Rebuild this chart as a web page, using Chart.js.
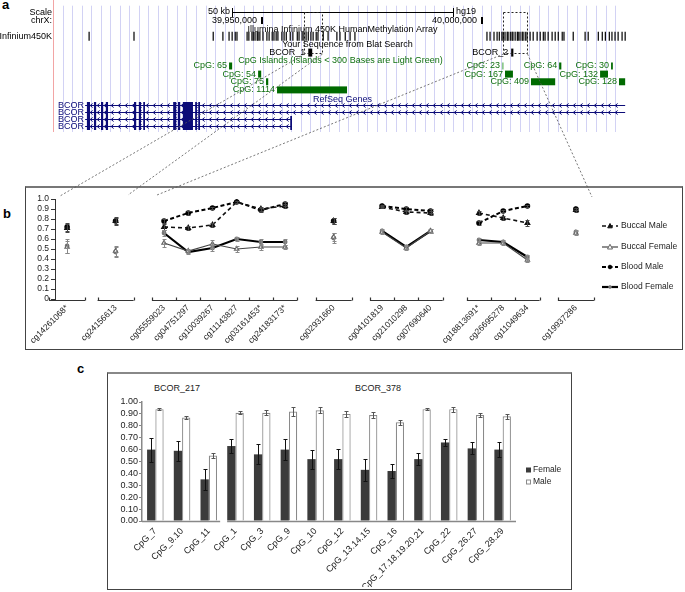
<!DOCTYPE html>
<html>
<head>
<meta charset="utf-8">
<script src="https://cdn.jsdelivr.net/npm/chart.js@4.4.1/dist/chart.umd.min.js"></script>
<style>
html, body { margin: 0; padding: 0; background: #fff; width: 685px; height: 592px; overflow: hidden; }
body { position: relative; font-family: "Liberation Sans", Arial, sans-serif; }
.abs { position: absolute; }
.panel { font-weight: bold; font-size: 13px; }
.box { box-sizing: border-box; border: 1px solid #444; }
.amp { font-size: 9px; color: #222; }
canvas { display: block; }
</style>
</head>
<body>
<div class="abs panel" style="left:2px;top:-3px">a</div>
<div class="abs panel" style="left:3px;top:206px">b</div>
<div class="abs panel" style="left:77px;top:361px">c</div>

<div class="abs box" style="left:25px;top:186px;width:658px;height:164px;border-top:2px solid #777"></div>
<div class="abs box" style="left:107px;top:372px;width:465px;height:218px;border-top:2px solid #888"></div>
<div class="abs amp" style="left:154px;top:383px">BCOR_217</div>
<div class="abs amp" style="left:355px;top:383px">BCOR_378</div>

<canvas id="chartB" class="abs" width="685" height="175" style="left:0;top:180px;z-index:2"></canvas>
<canvas id="chartC" class="abs" width="685" height="232" style="left:0;top:360px;z-index:2"></canvas>
<canvas id="chartA" class="abs" width="685" height="200" style="left:0;top:0;z-index:3"></canvas>

<script>
const FONT = '"Liberation Sans", Arial, sans-serif';

// ---------- a: genome browser view, chrX positions in kb ----------
const viewKb = [39902.95, 40033.6];
const scaleBarKb = 50;
const coordTicks = [39950, 40000];
const gridStartKb = 39904.8, gridStepKb = 2.164, gridEndKb = 40031.5;
const infiniumProbes = [39910.7, 39920.9, 39938.9, 39941.1, 39942.5, 39943.2, 39943.9, 39944.3, 39946.6, 39947.0,
  39947.7, 39948.0, 39948.4, 39948.9, 39949.1, 39949.5, 39950.2, 39951.1, 39951.6, 39952.3, 39952.7, 39953.2,
  39953.6, 39954.5, 39955.0, 39955.5, 39956.4, 39957.0, 39958.0, 39958.4, 39959.1, 39959.5, 39960.0, 39960.5,
  39961.1, 39961.6, 39962.3, 39962.7, 39963.9, 39965.0, 39967.0, 39967.7, 39968.9, 39970.0, 39971.1,
  40001.1, 40001.8, 40002.7, 40003.4, 40003.9, 40004.5, 40004.8, 40005.2, 40005.7, 40005.9, 40006.4, 40006.8,
  40007.0, 40007.5, 40008.0, 40008.2, 40008.6, 40009.1, 40009.3, 40009.8, 40010.2, 40010.9, 40011.6, 40012.5,
  40013.2, 40013.9, 40014.3, 40015.0, 40015.9, 40016.6, 40017.3, 40018.2, 40018.6, 40020.7, 40023.4, 40024.1,
  40026.4, 40027.3, 40028.0, 40028.9, 40029.5, 40030.2, 40030.9, 40031.8, 40032.5];
const blatNames = ['BCOR_1', 'BCOR_2'];
const blatStart = [39960.5, 40006.6];
const blatEnd = [39961.4, 40007.1];
const zoomStart = [39959.5, 40004.8];
const zoomEnd = [39963.6, 40010.2];
const cpgLabels = ['CpG: 65', 'CpG: 54', 'CpG: 75', 'CpG: 1114', 'CpG: 23', 'CpG: 167', 'CpG: 409', 'CpG: 64', 'CpG: 30', 'CpG: 132', 'CpG: 128'];
const cpgStart = [39942.5, 39949.1, 39950.9, 39953.4, 40004.5, 40005.2, 40011.1, 40017.5, 40029.3, 40026.8, 40031.1];
const cpgEnd   = [39943.2, 39949.8, 39951.4, 39969.3, 40004.9, 40007.0, 40016.6, 40018.0, 40029.7, 40028.6, 40032.5];
const cpgRow   = [0, 1, 2, 3, 0, 1, 2, 0, 0, 1, 2];
const cpgShort = [false, false, false, false, true, false, false, false, false, false, false];
const txStart = [39909.8, 39909.8, 39909.8, 39909.8];
const txEnd = [40032.5, 40032.5, 39956.8, 39956.8];
const exonStart = [39910.2, 39911.8, 39913.4, 39914.5, 39920.9, 39922.0, 39923.0, 39929.8, 39930.9, 39932.0, 39934.8, 39935.5];
const exonEnd   = [39910.9, 39912.3, 39913.9, 39915.0, 39921.4, 39922.5, 39923.4, 39930.5, 39931.4, 39934.3, 39935.2, 39935.9];
const lastExonStart = [null, null, 39956.4, 39956.4];
const lastExonEnd = [null, null, 39956.8, 39956.8];

// row layout of the browser image (y in px)
const rowY = { scale: 7, coord: 16, array: 25, probe: 32, blatTitle: 41, blat: 49, cpgTitle: 57, refseq: 98 };
const cpgRowY = [63, 71.5, 79.5, 88];
const txRowY = [104, 111.3, 118.6, 126];
const connectorEnds = [[60, 196], [128, 195], [157, 195], [592, 197]];

// ---------- b: 450K probes ----------
const probes = ['cg14261068*', 'cg24156613', 'cg05559023', 'cg04751297', 'cg10039267', 'cg11143827', 'cg03161453*',
  'cg24183173*', 'cg02931660', 'cg04101819', 'cg21010298', 'cg07690640', 'cg18813691*', 'cg26695278', 'cg11049634', 'cg19937286'];
const probeGroups = [1, 1, 6, 1, 3, 3, 1];
const buccalMale   = [0.71, 0.78, 0.72, 0.71, 0.74, 0.97, 0.90, 0.93, 0.78, 0.92, 0.87, 0.86, 0.86, 0.81, 0.76, 0.89];
const buccalFemale = [0.52, 0.48, 0.56, 0.48, 0.55, 0.50, 0.52, 0.52, 0.62, 0.67, 0.51, 0.68, 0.56, 0.56, 0.39, 0.66];
const bloodMale    = [0.72, 0.78, 0.78, 0.86, 0.91, 0.97, 0.89, 0.95, 0.78, 0.93, 0.90, 0.88, 0.76, 0.88, 0.93, 0.90];
const bloodFemale  = [0.53, 0.47, 0.66, 0.47, 0.51, 0.60, 0.57, 0.57, 0.61, 0.68, 0.52, 0.68, 0.59, 0.57, 0.42, 0.67];
const buccalMaleErr   = [0.04, 0.04, 0.03, 0.02, 0.02, 0.01, 0.02, 0.02, 0.03, 0.01, 0.02, 0.02, 0.02, 0.02, 0.03, 0.02];
const buccalFemaleErr = [0.06, 0.05, 0.04, 0.02, 0.04, 0.03, 0.03, 0.02, 0.04, 0.02, 0.02, 0.02, 0.02, 0.02, 0.02, 0.02];
const bloodMaleErr    = [0.04, 0.03, 0.02, 0.02, 0.01, 0.01, 0.02, 0.02, 0.03, 0.01, 0.02, 0.02, 0.02, 0.01, 0.01, 0.01];
const bloodFemaleErr  = [0.07, 0.05, 0.03, 0.02, 0.03, 0.02, 0.03, 0.03, 0.05, 0.02, 0.02, 0.02, 0.02, 0.02, 0.02, 0.02];
const methTicks = [0, 1, 0.1];

// ---------- c: EpiTYPER CpG units ----------
const cpgUnits = ['CpG_7', 'CpG_9.10', 'CpG_11', 'CpG_1', 'CpG_3', 'CpG_9', 'CpG_10', 'CpG_12', 'CpG_13.14.15',
  'CpG_16', 'CpG_17.18.19.20.21', 'CpG_22', 'CpG_26.27', 'CpG_28.29'];
const ampliconSizes = [3, 11];
const femaleMeth = [0.60, 0.59, 0.35, 0.63, 0.56, 0.60, 0.52, 0.52, 0.43, 0.42, 0.52, 0.66, 0.61, 0.60];
const femaleErr  = [0.10, 0.085, 0.09, 0.06, 0.085, 0.09, 0.08, 0.085, 0.09, 0.055, 0.05, 0.03, 0.05, 0.065];
const maleMeth   = [0.94, 0.87, 0.55, 0.91, 0.91, 0.92, 0.93, 0.90, 0.89, 0.83, 0.94, 0.94, 0.89, 0.88];
const maleErr    = [0.01, 0.01, 0.02, 0.015, 0.02, 0.04, 0.025, 0.025, 0.025, 0.02, 0.01, 0.02, 0.015, 0.02];

function txt(ctx, s, x, y, align, color, size) {
  ctx.font = (size || 9) + 'px ' + FONT;
  ctx.fillStyle = color || '#000';
  ctx.textAlign = align || 'left';
  ctx.textBaseline = 'middle';
  ctx.fillText(s, x, y);
}

// error bars for any dataset carrying an err array
const errorBars = {
  id: 'errorBars',
  afterDatasetsDraw(chart) {
    const { ctx, scales: { y } } = chart;
    chart.data.datasets.forEach((ds, i) => {
      if (!ds.err) return;
      const meta = chart.getDatasetMeta(i);
      ctx.save();
      ctx.strokeStyle = ds.errColor || '#333';
      ctx.lineWidth = 1;
      meta.data.forEach((el, j) => {
        const v = ds.data[j];
        if (v == null) return;
        const e = ds.err[j];
        const x = Math.round(el.x) + 0.5;
        const top = Math.round(y.getPixelForValue(v + e)) + 0.5;
        const bot = Math.round(y.getPixelForValue(v - e)) + 0.5;
        ctx.beginPath();
        ctx.moveTo(x, top); ctx.lineTo(x, bot);
        ctx.moveTo(x - 2, top); ctx.lineTo(x + 2, top);
        ctx.moveTo(x - 2, bot); ctx.lineTo(x + 2, bot);
        ctx.stroke();
      });
      ctx.restore();
    });
  }
};

// ================= panel b =================
const slotLabels = [], slotOf = [], groupSlots = [];
let k = 0;
probeGroups.forEach((n, g) => {
  if (g) slotLabels.push('');
  const first = slotLabels.length;
  for (let i = 0; i < n; i++) { slotOf.push(slotLabels.length); slotLabels.push(probes[k++]); }
  groupSlots.push([first, slotLabels.length - 1]);
});
const toSlots = vals => {
  const out = slotLabels.map(() => null);
  vals.forEach((v, i) => { out[slotOf[i]] = v; });
  return out;
};

const groupLines = {
  id: 'groupLines',
  afterDraw(chart) {
    const { ctx, scales: { x, y } } = chart;
    const w = x.getPixelForValue(1) - x.getPixelForValue(0);
    const y0 = Math.round(y.getPixelForValue(0)) + 1.5;
    ctx.save();
    ctx.strokeStyle = '#333';
    ctx.lineWidth = 1.2;
    groupSlots.forEach(([a, b]) => {
      const half = a === b ? 18 : w / 2;
      const l = x.getPixelForValue(a) - half, r = x.getPixelForValue(b) + half;
      ctx.beginPath();
      ctx.moveTo(l, y0); ctx.lineTo(r, y0);
      const marks = [l, r];
      for (let s = a; s < b; s++) marks.push(x.getPixelForValue(s) + w / 2);
      marks.forEach(m => { ctx.moveTo(Math.round(m) + 0.5, y0); ctx.lineTo(Math.round(m) + 0.5, y0 - 3); });
      ctx.stroke();
    });
    ctx.restore();
  }
};

function drawMarker(ctx, ds, cx, cy) {
  const r = ds.pointRadius;
  ctx.fillStyle = ds.pointBackgroundColor;
  ctx.strokeStyle = ds.pointBorderColor;
  ctx.lineWidth = 1;
  ctx.setLineDash([]);
  ctx.beginPath();
  if (ds.pointStyle === 'triangle') {
    ctx.moveTo(cx, cy - r * 1.1); ctx.lineTo(cx + r, cy + r * 0.8); ctx.lineTo(cx - r, cy + r * 0.8); ctx.closePath();
  } else {
    ctx.arc(cx, cy, r, 0, Math.PI * 2);
  }
  ctx.fill(); ctx.stroke();
}

const lineLegend = {
  id: 'lineLegend',
  afterDraw(chart) {
    const { ctx } = chart;
    const ys = [46, 67, 87, 107];
    ctx.save();
    chart.data.datasets.forEach((ds, i) => {
      const y = ys[i];
      ctx.strokeStyle = ds.borderColor;
      ctx.lineWidth = ds.borderWidth;
      ctx.setLineDash(ds.borderDash || []);
      ctx.beginPath(); ctx.moveTo(602, y); ctx.lineTo(618, y); ctx.stroke();
      drawMarker(ctx, ds, 610, y);
      txt(ctx, ds.label, 621, y, 'left', '#222', 8.5);
    });
    ctx.restore();
  }
};

const chartB = new Chart(document.getElementById('chartB'), {
  type: 'line',
  data: {
    labels: slotLabels,
    datasets: [
      { label: 'Buccal Male', data: toSlots(buccalMale), err: toSlots(buccalMaleErr), errColor: '#444',
        borderColor: '#111', borderWidth: 1.6, borderDash: [4, 3], pointStyle: 'triangle', pointRadius: 2.3,
        pointBackgroundColor: '#111', pointBorderColor: '#111' },
      { label: 'Buccal Female', data: toSlots(buccalFemale), err: toSlots(buccalFemaleErr), errColor: '#888',
        borderColor: '#444', borderWidth: 1.2, pointStyle: 'triangle', pointRadius: 2.5,
        pointBackgroundColor: '#fff', pointBorderColor: '#666' },
      { label: 'Blood Male', data: toSlots(bloodMale), err: toSlots(bloodMaleErr), errColor: '#444',
        borderColor: '#000', borderWidth: 2, borderDash: [4, 2.5], pointStyle: 'circle', pointRadius: 1.8,
        pointBackgroundColor: '#000', pointBorderColor: '#000' },
      { label: 'Blood Female', data: toSlots(bloodFemale), err: toSlots(bloodFemaleErr), errColor: '#888',
        borderColor: '#000', borderWidth: 2.2, pointStyle: 'circle', pointRadius: 1.3,
        pointBackgroundColor: '#777', pointBorderColor: '#777' }
    ]
  },
  options: {
    responsive: false, animation: false, events: [],
    layout: { padding: { left: 20, right: 97, top: 19, bottom: 6 } },
    plugins: { legend: { display: false }, tooltip: { enabled: false } },
    elements: { line: { tension: 0 } },
    scales: {
      x: {
        offset: true,
        grid: { display: false, drawTicks: false },
        border: { display: false },
        ticks: { autoSkip: false, minRotation: 45, maxRotation: 45, padding: 4, color: '#222', font: { family: FONT, size: 8.5 } },
        afterFit: s => { s.height = 50; }
      },
      y: {
        min: methTicks[0], max: methTicks[1],
        grid: { drawOnChartArea: false, tickLength: 4, color: '#333' },
        border: { color: '#333' },
        ticks: { stepSize: methTicks[2], autoSkip: false, padding: 2, color: '#222', font: { family: FONT, size: 8.5 } },
        afterFit: s => { s.width = 35; }
      }
    }
  },
  plugins: [errorBars, groupLines, lineLegend]
});

// ================= panel c =================
const barAxis = {
  id: 'barAxis',
  afterDraw(chart) {
    const { ctx, chartArea: a, scales: { x, y } } = chart;
    const w = x.getPixelForValue(1) - x.getPixelForValue(0);
    const y0 = Math.round(y.getPixelForValue(0)) + 0.5;
    ctx.save();
    ctx.strokeStyle = '#888';
    ctx.lineWidth = 1.5;
    let first = 0;
    ampliconSizes.forEach((n, g) => {
      const last = first + n - 1;
      const l = g === 0 ? a.left : x.getPixelForValue(first) - w / 2 + 5;
      const r = g === ampliconSizes.length - 1 ? a.right : x.getPixelForValue(last) + w / 2 - 2;
      ctx.beginPath(); ctx.moveTo(l, y0); ctx.lineTo(r, y0); ctx.stroke();
      first += n;
    });
    // legend
    chart.data.datasets.forEach((ds, i) => {
      const yy = 110 + i * 12;
      ctx.lineWidth = 1;
      ctx.fillStyle = ds.backgroundColor;
      ctx.fillRect(526, yy - 2.5, 5, 5);
      if (ds.borderWidth) { ctx.strokeStyle = ds.borderColor; ctx.strokeRect(526.5, yy - 2, 4, 4); }
      txt(ctx, ds.label, 533, yy, 'left', '#222', 8.5);
    });
    ctx.restore();
  }
};

const chartC = new Chart(document.getElementById('chartC'), {
  type: 'bar',
  data: {
    labels: cpgUnits,
    datasets: [
      { label: 'Female', data: femaleMeth, err: femaleErr, errColor: '#111', backgroundColor: '#3b3b3b', borderWidth: 0 },
      { label: 'Male', data: maleMeth, err: maleErr, errColor: '#555', backgroundColor: '#ffffff', borderColor: '#8a8a8a', borderWidth: 1.2 }
    ]
  },
  options: {
    responsive: false, animation: false, events: [],
    layout: { padding: { left: 100, right: 169, top: 42, bottom: 5 } },
    plugins: { legend: { display: false }, tooltip: { enabled: false } },
    datasets: { bar: { categoryPercentage: 0.62, barPercentage: 1.0 } },
    scales: {
      x: {
        grid: { display: false, drawTicks: false },
        border: { display: false },
        ticks: { autoSkip: false, minRotation: 45, maxRotation: 45, padding: 5, color: '#222', font: { family: FONT, size: 9 } },
        afterFit: s => { s.height = 66; }
      },
      y: {
        min: 0, max: 1,
        grid: { drawOnChartArea: false, tickLength: 3, color: '#888' },
        border: { color: '#888', width: 1.5 },
        ticks: { stepSize: 0.1, autoSkip: false, padding: 1, color: '#222', font: { family: FONT, size: 9 }, callback: v => v.toFixed(2) },
        afterFit: s => { s.width = 42; }
      }
    }
  },
  plugins: [errorBars, barAxis]
});

// ================= panel a =================
const browserTracks = {
  id: 'browserTracks',
  beforeDatasetsDraw(chart) {
    const { ctx, chartArea: a, scales: { x, y } } = chart;
    const X = v => x.getPixelForValue(v), Y = v => y.getPixelForValue(v);
    const mid = (a.left + a.right) / 2;
    ctx.save();
    ctx.fillStyle = '#f2a5a5';
    ctx.fillRect(a.left - 2, 0, 1, a.bottom);

    txt(ctx, 'Scale', a.left - 3, Y(rowY.scale), 'right');
    txt(ctx, 'chrX:', a.left - 3, Y(rowY.coord), 'right');
    txt(ctx, 'Infinium450K', a.left - 3, Y(rowY.probe), 'right');

    // scale bar
    const cKb = (x.min + x.max) / 2;
    const b0 = Math.round(X(cKb - scaleBarKb / 2)), b1 = Math.round(X(cKb + scaleBarKb / 2));
    const sy = Math.round(Y(rowY.scale));
    ctx.fillStyle = '#000';
    ctx.fillRect(b0, sy, b1 - b0, 1);
    ctx.fillRect(b0, sy - 4, 1, 9);
    ctx.fillRect(b1, sy - 4, 1, 9);
    txt(ctx, scaleBarKb + ' kb', b0 - 2, sy, 'right');
    txt(ctx, 'hg19', b1 + 3, sy, 'left');

    // base position ticks
    coordTicks.forEach(v => {
      const px = Math.round(X(v));
      ctx.fillStyle = '#000';
      ctx.fillRect(px - 1, Y(rowY.coord) - 4, 2, 7);
      txt(ctx, (v * 1000).toLocaleString('en-US'), px - 5, Y(rowY.coord), 'right');
    });

    txt(ctx, 'Illumina Infinium 450K HumanMethylation Array', mid, Y(rowY.array), 'center');
    txt(ctx, 'Your Sequence from Blat Search', mid + 5, Y(rowY.blatTitle), 'center');

    // blat hits and the dashed zoom boxes
    blatNames.forEach((n, i) => {
      const l = X(blatStart[i]), r = Math.max(X(blatEnd[i]), l + 2);
      ctx.fillStyle = '#000';
      ctx.fillRect(l, Y(rowY.blat) - 4, r - l, 8);
      txt(ctx, n, l - 3, Y(rowY.blat), 'right');
    });
    ctx.strokeStyle = '#222';
    ctx.lineWidth = 1;
    ctx.setLineDash([2, 2]);
    zoomStart.forEach((s, i) => {
      const l = Math.round(X(s)) + 0.5, r = Math.round(X(zoomEnd[i])) + 0.5;
      ctx.strokeRect(l, 12.5, r - l, 41);
    });
    ctx.setLineDash([]);

    // CpG islands
    txt(ctx, 'CpG Islands (Islands < 300 Bases are Light Green)', mid - 2, Y(rowY.cpgTitle), 'center', '#107010');
    cpgLabels.forEach((lab, i) => {
      const l = X(cpgStart[i]), r = Math.max(X(cpgEnd[i]), l + 1.5);
      const cy = Y(cpgRowY[cpgRow[i]]);
      ctx.fillStyle = cpgShort[i] ? '#8cc88c' : '#006a00';
      ctx.fillRect(l, cy - 3.5, r - l, 7);
      txt(ctx, lab, l - 2, cy, 'right', '#107010');
    });

    // RefSeq genes
    txt(ctx, 'RefSeq Genes', mid, Y(rowY.refseq), 'center', '#0c0c78');
    txRowY.forEach((ry, t) => {
      const cy = Math.round(Y(ry)) + 0.5;
      txt(ctx, 'BCOR', 58, cy, 'left', '#0c0c78');
      const l = X(txStart[t]), r = X(txEnd[t]);
      ctx.strokeStyle = '#0c0c78';
      ctx.lineWidth = 1;
      ctx.beginPath();
      ctx.moveTo(l, cy); ctx.lineTo(r, cy);
      for (let cx = l + 6; cx < r - 3; cx += 7) {
        ctx.moveTo(cx + 1.5, cy - 2); ctx.lineTo(cx - 1, cy); ctx.lineTo(cx + 1.5, cy + 2);
      }
      ctx.stroke();
      ctx.fillStyle = '#0c0c78';
      exonStart.forEach((s, e) => {
        const el = X(s), er = Math.max(X(exonEnd[e]), el + 1.5);
        ctx.fillRect(el, cy - 3.5, er - el, 7);
      });
      if (lastExonStart[t] != null) {
        const el = X(lastExonStart[t]), er = Math.max(X(lastExonEnd[t]), el + 1.5);
        ctx.fillRect(el, cy - 3.5, er - el, 7);
      }
    });
    ctx.restore();
  },
  afterDraw(chart) {
    const { ctx, scales: { x } } = chart;
    const px = v => Math.round(x.getPixelForValue(v)) + 0.5;
    const starts = [px(zoomStart[0]), px(zoomEnd[0]), px(zoomStart[1]), px(zoomEnd[1])];
    ctx.save();
    ctx.strokeStyle = '#555';
    ctx.lineWidth = 0.8;
    ctx.setLineDash([2, 2]);
    connectorEnds.forEach(([ex, ey], i) => {
      ctx.beginPath(); ctx.moveTo(starts[i], 54); ctx.lineTo(ex, ey); ctx.stroke();
    });
    ctx.restore();
  }
};

const chartA = new Chart(document.getElementById('chartA'), {
  type: 'scatter',
  data: {
    datasets: [{
      label: 'Infinium450K',
      data: infiniumProbes.map(p => ({ x: p, y: rowY.probe })),
      pointStyle: 'line', rotation: 90, pointRadius: 4.5, borderWidth: 1.2, borderColor: '#000'
    }]
  },
  options: {
    responsive: false, animation: false, events: [],
    layout: { padding: { left: 55, right: 55, top: 0, bottom: 68 } },
    plugins: { legend: { display: false }, tooltip: { enabled: false } },
    scales: {
      x: {
        type: 'linear', min: viewKb[0], max: viewKb[1],
        grid: { color: '#d2d2f4', drawTicks: false },
        border: { display: false },
        ticks: { display: false },
        afterBuildTicks: s => {
          const t = [];
          for (let v = gridStartKb; v <= gridEndKb; v += gridStepKb) t.push({ value: v });
          s.ticks = t;
        },
        afterFit: s => { s.height = 0; }
      },
      y: { display: false, min: 0, max: 132, reverse: true }
    }
  },
  plugins: [browserTracks]
});
</script>
</body>
</html>
